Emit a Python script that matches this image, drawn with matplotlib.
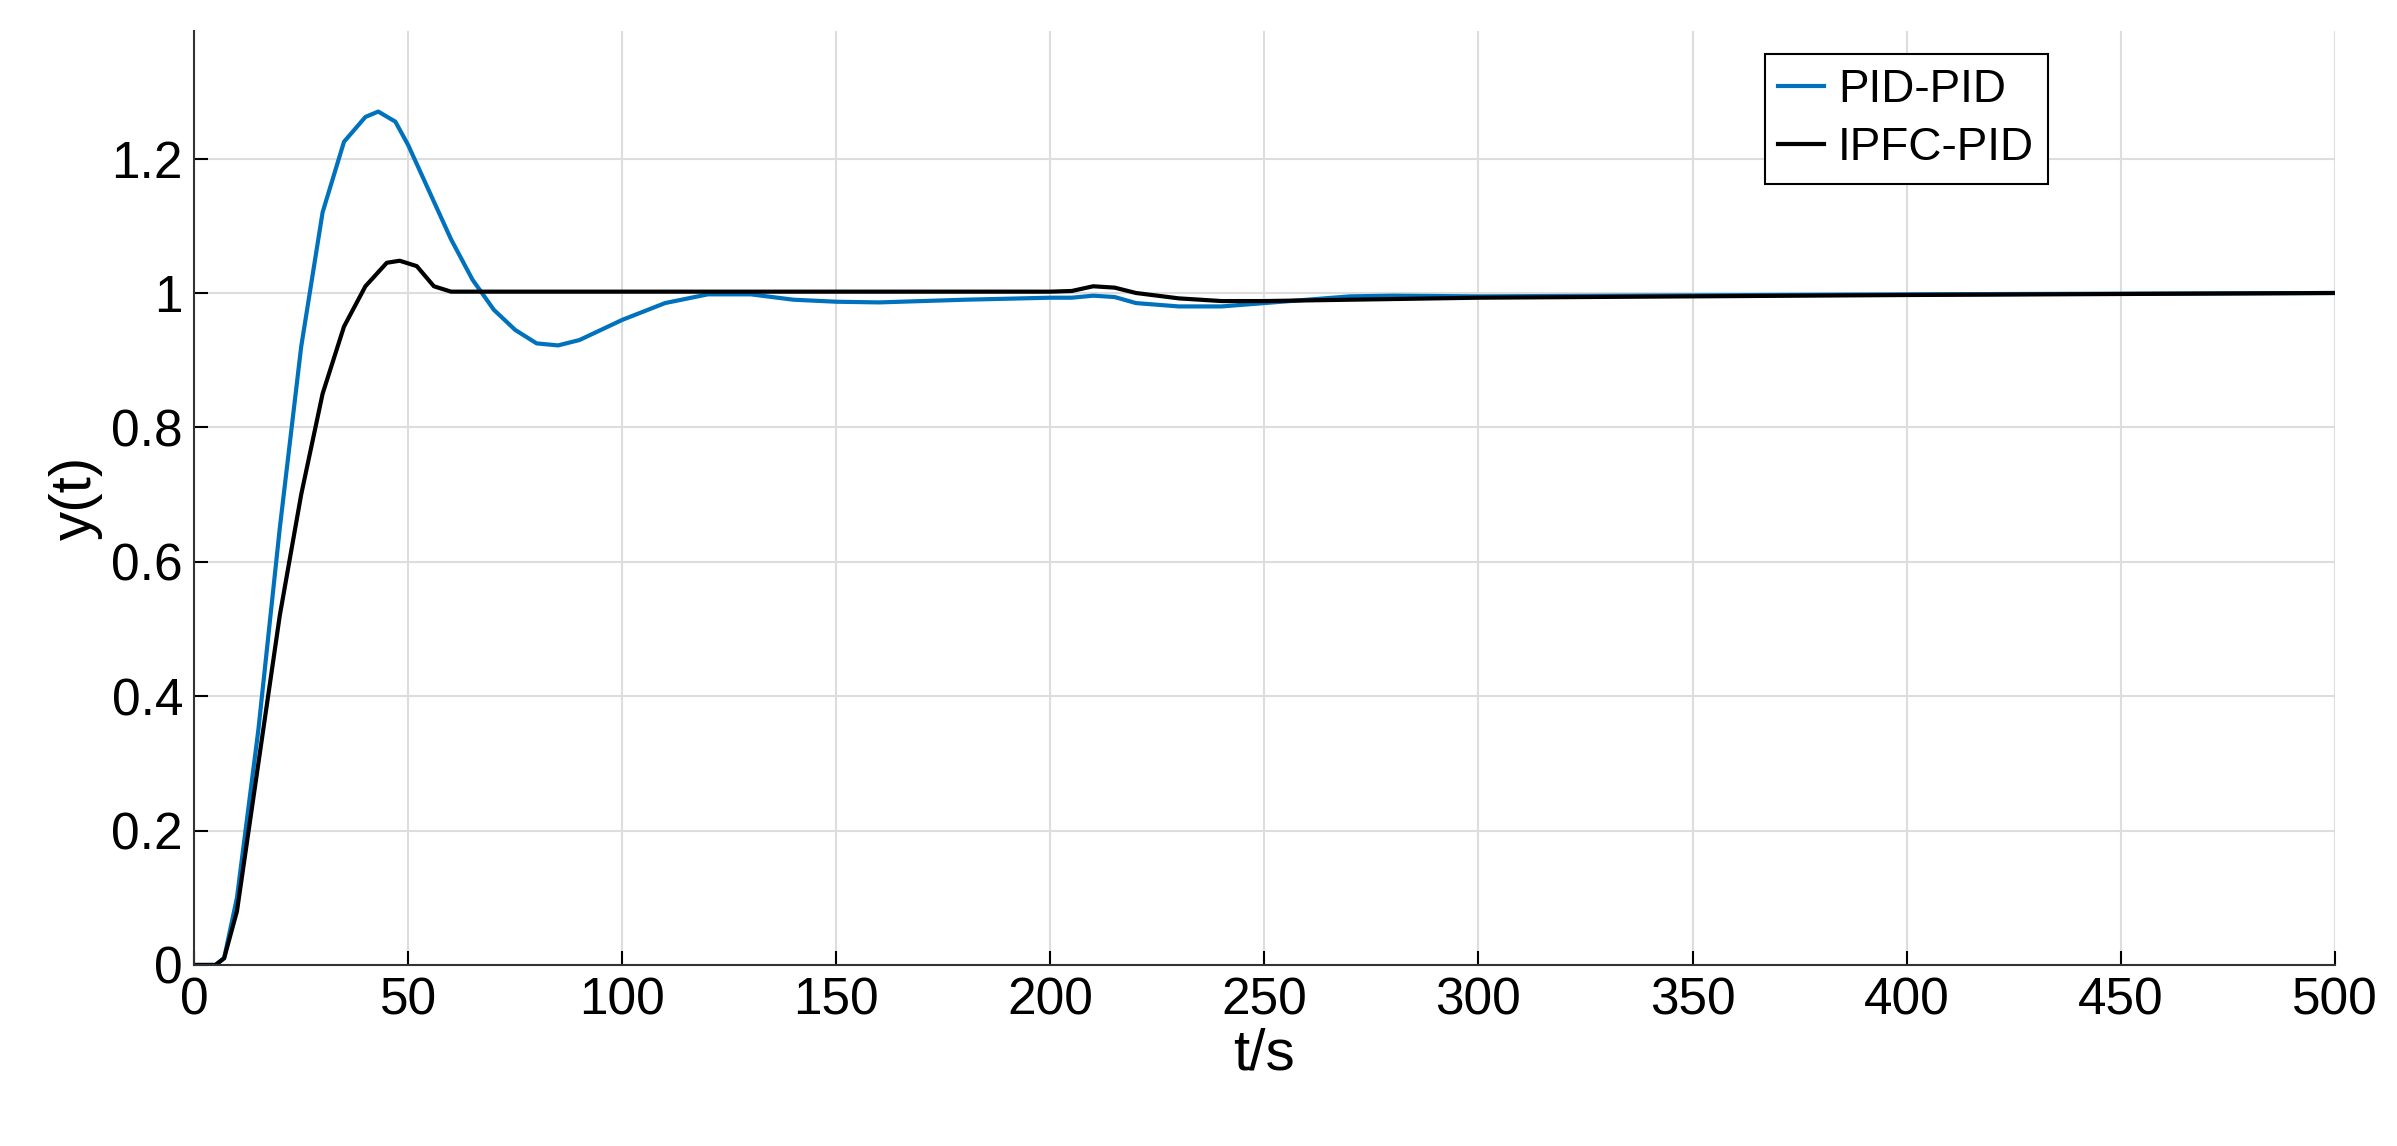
import matplotlib
matplotlib.use("Agg")
import matplotlib.pyplot as plt

t_pid = [0,5,7,10,15,20,25,30,35,40,43,47,50,55,60,65,70,75,80,85,90,95,100,110,120,130,140,150,160,180,200,205,210,215,220,230,240,250,260,270,280,300,400,500]
y_pid = [0,0,0.01,0.1,0.35,0.65,0.92,1.12,1.225,1.262,1.27,1.255,1.22,1.15,1.08,1.02,0.975,0.945,0.925,0.922,0.93,0.945,0.96,0.985,0.998,0.998,0.99,0.987,0.986,0.99,0.993,0.993,0.996,0.994,0.985,0.98,0.98,0.985,0.99,0.995,0.996,0.995,0.998,1.0]
t_ipfc = [0,5,7,10,15,20,25,30,35,40,45,48,52,56,60,100,200,205,210,215,220,230,240,250,270,300,400,500]
y_ipfc = [0,0,0.01,0.08,0.3,0.52,0.7,0.85,0.95,1.01,1.045,1.048,1.04,1.01,1.002,1.002,1.002,1.003,1.01,1.008,1.0,0.992,0.988,0.988,0.99,0.993,0.997,1.0]
xticks = [0,50,100,150,200,250,300,350,400,450,500]
yticks = [0,0.2,0.4,0.6,0.8,1,1.2]
yticklabels = ["0","0.2","0.4","0.6","0.8","1","1.2"]

plt.rcParams['font.family'] = ['Liberation Sans', 'DejaVu Sans']
fig = plt.figure(figsize=(23.97, 11.46), dpi=100)
ax = fig.add_axes([0.081, 0.158, 0.893, 0.815])
ax.plot(t_pid, y_pid, color='#0072BD', lw=3, label='PID-PID')
ax.plot(t_ipfc, y_ipfc, color='black', lw=3, label='IPFC-PID')
ax.set_xlim(0, 500)
ax.set_ylim(0, 1.39)
ax.set_xticks(xticks)
ax.set_yticks(yticks)
ax.set_yticklabels(yticklabels)
ax.grid(True, color='#dddddd', lw=1.5)
for s in ['top', 'right']:
    ax.spines[s].set_visible(False)
for s in ['left', 'bottom']:
    ax.spines[s].set_color('#333333')
    ax.spines[s].set_linewidth(1.5)
ax.tick_params(labelsize=37, direction='in', length=10, width=1.5, pad=8)
ax.set_xlabel('t/s', fontsize=42, labelpad=2)
ax.set_ylabel('y(t)', fontsize=42, labelpad=6)
leg = ax.legend(loc='upper right', bbox_to_anchor=(0.866, 0.975), fontsize=33, fancybox=False,
                edgecolor='black', framealpha=1, handlelength=1.0, handletextpad=0.3,
                borderpad=0.3, labelspacing=0.3, borderaxespad=0)
leg.get_frame().set_linewidth(1.5)
fig.savefig('out.png', dpi=100)
